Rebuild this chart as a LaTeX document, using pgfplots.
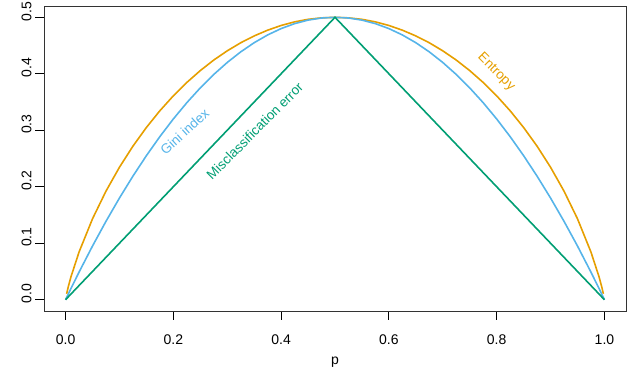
\documentclass[border=0pt]{standalone}
\usepackage{pgfplots}
\pgfplotsset{compat=1.18}
\usepackage{fontspec}
\setmainfont{Liberation Sans}
\definecolor{cEnt}{HTML}{E69F00}
\definecolor{cGini}{HTML}{56B4E9}
\definecolor{cMis}{HTML}{009E73}
\begin{document}
\begin{tikzpicture}
\path[use as bounding box] (-44pt,-74pt) rectangle (586pt,311pt);
\begin{axis}[
  at={(0pt,0pt)}, anchor=south west,
  scale only axis, width=582pt, height=305pt,
  xmin=-0.04, xmax=1.04, ymin=-0.02, ymax=0.52,
  xtick={0,0.2,0.4,0.6,0.8,1.0},
  ytick={0,0.1,0.2,0.3,0.4,0.5},
  xticklabels={0.0,0.2,0.4,0.6,0.8,1.0},
  yticklabels={0.0,0.1,0.2,0.3,0.4,0.5},
  tick pos=left, tick align=outside,
  major tick length=9pt,
  every tick/.style={black, line width=0.8pt},
  axis line style={black!80, line width=0.8pt},
  tick label style={font=\fontsize{14}{16}\selectfont},
  xticklabel style={yshift=-11pt},
  yticklabel style={rotate=90, anchor=south, xshift=6pt},
  xlabel={p}, xlabel style={font=\fontsize{14}{16}\selectfont, yshift=-6pt},
  clip=false,
]
\addplot[cEnt, line width=1.6pt] coordinates {
(0.002,0.0104) (0.005,0.0227) (0.01,0.0404) (0.025,0.0843) (0.05,0.1432) (0.075,0.1922)
(0.1,0.2345) (0.125,0.2718) (0.15,0.3049) (0.175,0.3345) (0.2,0.3610) (0.225,0.3846)
(0.25,0.4056) (0.275,0.4243) (0.3,0.4406) (0.325,0.4549) (0.35,0.4670) (0.375,0.4772)
(0.4,0.4855) (0.425,0.4919) (0.45,0.4964) (0.475,0.4990) (0.5,0.5)
(0.525,0.4990) (0.55,0.4964) (0.575,0.4919) (0.6,0.4855) (0.625,0.4772) (0.65,0.4670)
(0.675,0.4549) (0.7,0.4406) (0.725,0.4243) (0.75,0.4056) (0.775,0.3846) (0.8,0.3610)
(0.825,0.3345) (0.85,0.3049) (0.875,0.2718) (0.9,0.2345) (0.925,0.1922) (0.95,0.1432)
(0.975,0.0843) (0.99,0.0404) (0.995,0.0227) (0.998,0.0104)
};
\addplot[cGini, line width=1.6pt] coordinates {
(0,0) (0.01,0.0198) (0.025,0.04875) (0.05,0.095) (0.075,0.13875) (0.1,0.18) (0.125,0.21875)
(0.15,0.255) (0.175,0.28875) (0.2,0.32) (0.225,0.34875) (0.25,0.375) (0.275,0.39875)
(0.3,0.42) (0.325,0.43875) (0.35,0.455) (0.375,0.46875) (0.4,0.48) (0.425,0.48875)
(0.45,0.495) (0.475,0.49875) (0.5,0.5)
(0.525,0.49875) (0.55,0.495) (0.575,0.48875) (0.6,0.48) (0.625,0.46875) (0.65,0.455)
(0.675,0.43875) (0.7,0.42) (0.725,0.39875) (0.75,0.375) (0.775,0.34875) (0.8,0.32)
(0.825,0.28875) (0.85,0.255) (0.875,0.21875) (0.9,0.18) (0.925,0.13875) (0.95,0.095)
(0.975,0.04875) (0.99,0.0198) (1,0)
};
\addplot[cMis, line width=1.6pt] coordinates {(0,0) (0.5,0.5) (1,0)};
\node[cGini, rotate=42, font=\fontsize{13.5}{16}\selectfont] at (axis cs:0.221,0.298) {Gini index};
\node[cMis, rotate=45, font=\fontsize{13.5}{16}\selectfont] at (axis cs:0.351,0.299) {Misclassification error};
\node[cEnt, rotate=-45, font=\fontsize{13.5}{16}\selectfont] at (axis cs:0.799,0.403) {Entropy};
\end{axis}
\end{tikzpicture}
\end{document}
